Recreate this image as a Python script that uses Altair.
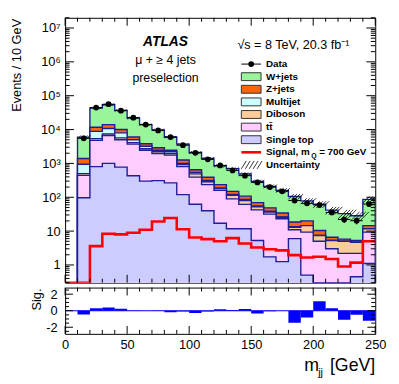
import altair as alt
import numpy as np
import pandas as pd

# ---------------- data ----------------
bin_lo = list(range(10, 250, 10))          # 24 bins, 10..250 GeV
data_obs = [5500, 44500, 56000, 36000, 22500, 14000, 9400, 6000, 3450, 2050, 1320, 870,
            620, 435, 275, 200, 150, 80, 66, 59, 35.5, 22, 20.3, 63]
w_jets = [4600, 31500, 40000, 27000, 16000, 10200, 6900, 3550, 2440, 1450, 1010, 613,
          550, 382, 226, 161, 126, 87, 58, 52, 35, 27, 23, 72]
z_jets = [450, 2900, 3300, 2000, 1000, 600, 450, 250, 260, 110, 75, 47,
          28, 22, 14, 10, 8, 5, 5.5, 3, 1.3, 0.8, 0.6, 2.8]
multijet = [450, 3400, 3300, 2300, 900, 500, 250, 250, 80, 50, 28, 10,
            8, 6, 3, 2, 0.5, 0.5, 0, 0, 0, 0, 0, 0]
diboson = [55, 600, 800, 700, 400, 250, 250, 200, 120, 100, 50, 20,
           24, 18, 10, 5, 2.5, 2, 5.2, 2.4, 2.3, 2.8, 2.5, 2.4]
ttbar = [345, 4000, 5600, 4225, 3270, 2150, 1640, 1485, 680, 330, 197, 143,
         78, 50, 37, 30, 22, 5, 8.8, 5, 3, 2.2, 1.75, 8.2]
single_top = [97, 800, 1000, 775, 430, 300, 310, 265, 120, 62, 40, 17,
              11.7, 11.7, 5.3, 1.74, 1.25, 6, 0.5, 0, 0, 0, 0.45, 1.1]
unc_rel = [0.12, 0.08, 0.08, 0.08, 0.08, 0.08, 0.08, 0.08, 0.09, 0.09, 0.1, 0.1,
           0.1, 0.11, 0.12, 0.13, 0.15, 0.18, 0.2, 0.22, 0.25, 0.3, 0.3, 0.22]
sig_lo = list(range(0, 250, 10))            # 25 bins, 0..250 GeV
signal = [0, 0, 3.6, 8.4, 8.0, 8.9, 10.9, 19.3, 24.5, 11.3, 6.5, 5.8, 5.0,
          6.2, 4.3, 3.3, 2.9, 2.7, 1.95, 1.67, 1.74, 1.5, 0.9, 1.17, 5.0]
significance = [-0.47, 0.31, 0.39, 0.24, 0.03, 0.0, -0.03, -0.18, -0.08, -0.27, -0.08, 0.18,
                0.1, 0.2, -0.33, -0.05, 0.0, -1.47, -0.82, 1.14, 0.3, -1.08, -0.5, -1.2]

legend_names = ["Data", "W+jets", "Z+jets", "Multijet", "Diboson", "tt̄", "Single top",
                "Signal, m", "Uncertainty"]
y_major = [1, 10, 100, 1e3, 1e4, 1e5, 1e6, 1e7]
x_major = [0, 50, 100, 150, 200, 250]
x_labels = [0, 50, 100, 150, 200, 250]
r_major = [-2, 0, 2]

# ---------------- style ----------------
FONT = "Liberation Sans"
W, H, HR = 315, 269, 47
YMIN, YMAX = 0.3, 2e7
FLOOR = 1e-3
NAVY = "#1e1e96"
colors = {"W+jets": "#99f599", "Z+jets": "#fa640a", "Multijet": "#ccffff",
          "Diboson": "#ffcc99", "tt": "#ffccff", "Single top": "#ccccff"}

xs = alt.Scale(domain=[0, 250], nice=False, zero=False)
ys = alt.Scale(type="log", domain=[YMIN, YMAX], nice=False, clamp=True)
rs = alt.Scale(domain=[-2.8, 2.8], nice=False, zero=False)

label_expr = ("datum.value < 5 ? '1' : datum.value < 50 ? '10' : '10' + "
              "['','','²','³','⁴','⁵','⁶','⁷','⁸'][round(log(datum.value)/LN10)]")
main_y_axis = alt.Axis(values=y_major, labelExpr=label_expr, ticks=False, domain=False,
                       grid=False, labelPadding=5, labelFontSize=13, labelFlush=False,
                       labelOverlap=False, title=None, orient="left")

one = pd.DataFrame({"a": [0]})
def text(t, x, y, size=12, weight="normal", style="normal", align="left",
         baseline="alphabetic", angle=0):
    return alt.Chart(one).mark_text(text=t, font=FONT, fontSize=size, fontWeight=weight,
                                    fontStyle=style, align=align, baseline=baseline,
                                    angle=angle, color="black").encode(
        x=alt.value(x), y=alt.value(y))

layers = []
# stacked histograms (cumulative), drawn top layer first
stack_order = [("Single top", single_top), ("tt", ttbar), ("Diboson", diboson),
               ("Multijet", multijet), ("Z+jets", z_jets), ("W+jets", w_jets)]
cum = np.cumsum(np.array([v for _, v in stack_order], dtype=float), axis=0)
first = True
for idx in range(len(stack_order) - 1, -1, -1):
    name = stack_order[idx][0]
    c = np.maximum(cum[idx], FLOOR)
    df_a = pd.DataFrame({"x": bin_lo + [250], "y": list(c) + [c[-1]]})
    yenc = alt.Y("y:Q", scale=ys, axis=main_y_axis if first else None)
    first = False
    layers.append(alt.Chart(df_a).mark_area(interpolate="step-after", color=colors[name],
                                            clip=True, opacity=1)
                  .encode(x=alt.X("x:Q", scale=xs, axis=None), y=yenc, y2=alt.value(H)))
    df_l = pd.DataFrame({"x": [10] + bin_lo + [250, 250],
                         "y": [FLOOR] + list(c) + [c[-1], FLOOR],
                         "i": list(range(len(bin_lo) + 3))})
    layers.append(alt.Chart(df_l).mark_line(interpolate="step-after", color=NAVY,
                                            strokeWidth=1.4, clip=True)
                  .encode(x=alt.X("x:Q", scale=xs, axis=None),
                          y=alt.Y("y:Q", scale=ys, axis=None), order=alt.Order("i:Q")))

# signal
sg = [max(v, FLOOR) for v in signal]
df_s = pd.DataFrame({"x": sig_lo + [250], "y": sg + [sg[-1]], "i": list(range(len(sg) + 1))})
layers.append(alt.Chart(df_s).mark_line(interpolate="step-after", color="#ff0000",
                                        strokeWidth=2.6, clip=True)
              .encode(x=alt.X("x:Q", scale=xs, axis=None), y=alt.Y("y:Q", scale=ys, axis=None),
                      order=alt.Order("i:Q")))

# uncertainty hatching around the total
total = cum[-1]
px_per_dec = H / np.log10(YMAX / YMIN)
rows = []
for lo, t, u in zip(bin_lo, total, unc_rel):
    lo_v, hi_v = t * (1 - u), t * (1 + u)
    dx = min(px_per_dec * np.log10(hi_v / lo_v) / (W / 250.0), 9.0)
    for k in range(4):
        x1 = lo + 2.5 * k
        rows.append({"x1": x1, "x2": x1 + dx, "y1": lo_v, "y2": hi_v})
df_h = pd.DataFrame(rows)
layers.append(alt.Chart(df_h).mark_rule(color="black", strokeWidth=0.8, clip=True)
              .encode(x=alt.X("x1:Q", scale=xs, axis=None), x2="x2:Q",
                      y=alt.Y("y1:Q", scale=ys, axis=None), y2="y2:Q"))

# data points
df_d = pd.DataFrame({"lo": bin_lo, "hi": [b + 10 for b in bin_lo], "c": [b + 5 for b in bin_lo],
                     "d": data_obs,
                     "dl": [d - np.sqrt(d) for d in data_obs],
                     "dh": [d + np.sqrt(d) for d in data_obs]})
layers.append(alt.Chart(df_d).mark_rule(color="black", strokeWidth=1, clip=True)
              .encode(x=alt.X("lo:Q", scale=xs, axis=None), x2="hi:Q",
                      y=alt.Y("d:Q", scale=ys, axis=None)))
layers.append(alt.Chart(df_d).mark_rule(color="black", strokeWidth=1, clip=True)
              .encode(x=alt.X("c:Q", scale=xs, axis=None),
                      y=alt.Y("dl:Q", scale=ys, axis=None), y2="dh:Q"))
layers.append(alt.Chart(df_d).mark_circle(color="black", size=34, opacity=1, clip=True)
              .encode(x=alt.X("c:Q", scale=xs, axis=None), y=alt.Y("d:Q", scale=ys, axis=None)))

# tick marks (inside, ROOT style)
def yticks(vals, scale, length, w):
    df = pd.DataFrame({"v": vals})
    out = []
    for a, b in ((0, length), (w - length, w)):
        out.append(alt.Chart(df).mark_rule(color="black", strokeWidth=1)
                   .encode(y=alt.Y("v:Q", scale=scale, axis=None),
                           x=alt.value(a), x2=alt.value(b)))
    return out

def xticks(vals, length, h):
    df = pd.DataFrame({"v": vals})
    out = []
    for a, b in ((h - length, h), (0, length)):
        out.append(alt.Chart(df).mark_rule(color="black", strokeWidth=1)
                   .encode(x=alt.X("v:Q", scale=xs, axis=None),
                           y=alt.value(a), y2=alt.value(b)))
    return out

y_minor = [m * 10.0 ** k for k in range(-1, 8) for m in range(2, 10)
           if YMIN <= m * 10.0 ** k <= YMAX]
x_minor = [v for v in range(0, 251, 10) if v % 50 != 0]
layers += yticks(y_major, ys, 9, W) + yticks(y_minor, ys, 4.5, W)
layers += xticks(x_major, 8, H) + xticks(x_minor, 4, H)

# texts
layers.append(text("Events / 10 GeV", -42, 1, 13, align="right", baseline="bottom", angle=270))
layers.append(text("ATLAS", 102, 29, 14, "bold", "italic", "center"))
layers.append(text("μ + ≥ 4 jets", 102, 47, 12.5, align="center"))
layers.append(text("preselection", 102, 65, 12.5, align="center"))
layers.append(text("√s = 8 TeV, 20.3 fb⁻¹", 175, 32, 12.8))

# legend
LX0, LX1, LT = 179, 199, 204
LY0, LDY = 47, 12.8
leg_fill = [None, colors["W+jets"], colors["Z+jets"], colors["Multijet"], colors["Diboson"],
            colors["tt"], colors["Single top"], None, None]
for i, name in enumerate(legend_names):
    yc = LY0 + LDY * i
    if i == 0:
        layers.append(alt.Chart(one).mark_rule(color="black", strokeWidth=1)
                      .encode(x=alt.value(LX0), x2=alt.value(LX1), y=alt.value(yc)))
        layers.append(alt.Chart(one).mark_circle(color="black", size=34, opacity=1)
                      .encode(x=alt.value((LX0 + LX1) / 2), y=alt.value(yc)))
    elif leg_fill[i] is not None:
        layers.append(alt.Chart(one).mark_rect(fill=leg_fill[i], stroke="#333333", strokeWidth=1)
                      .encode(x=alt.value(LX0), x2=alt.value(LX1),
                              y=alt.value(yc - 4), y2=alt.value(yc + 4)))
    elif i == 7:
        layers.append(alt.Chart(one).mark_rule(color="#ff0000", strokeWidth=2.6)
                      .encode(x=alt.value(LX0), x2=alt.value(LX1), y=alt.value(yc)))
    else:
        for k in range(5):
            layers.append(alt.Chart(one).mark_rule(color="black", strokeWidth=0.8)
                          .encode(x=alt.value(LX0 + 4 * k), x2=alt.value(LX0 + 4 * k + 5),
                                  y=alt.value(yc + 4), y2=alt.value(yc - 4)))
    layers.append(text(name, LT, yc, 10, "bold", baseline="middle"))
    if i == 7:
        layers.append(text("Q", LT + 46, yc + 4, 7, "bold", baseline="middle"))
        layers.append(text("= 700 GeV", LT + 54, yc, 10, "bold", baseline="middle"))

main = (alt.layer(*layers).properties(width=W, height=H)
        .resolve_axis(x="independent", y="independent"))

# ---------------- significance panel ----------------
df_r = pd.DataFrame({"lo": bin_lo, "hi": [b + 10 for b in bin_lo], "s": significance})
x_axis = alt.Axis(values=x_labels, format="d", ticks=False, domain=False, grid=False,
                  labelPadding=5, labelFontSize=13, labelFlush=False, labelOverlap=False,
                  title=None, orient="bottom")
r_axis = alt.Axis(values=r_major, labelExpr="'' + datum.value", ticks=False, domain=False,
                  grid=False, labelPadding=8, labelFontSize=13, labelFlush=False,
                  labelOverlap=False, title=None, orient="left")
rl = [alt.Chart(df_r).mark_rect(color="#0000ff", clip=True)
      .encode(x=alt.X("lo:Q", scale=xs, axis=x_axis), x2="hi:Q",
              y=alt.Y("s:Q", scale=rs, axis=r_axis), y2=alt.datum(0))]
rl.append(alt.Chart(pd.DataFrame({"v": [0]})).mark_rule(color="#0000ff", strokeWidth=1.2)
          .encode(y=alt.Y("v:Q", scale=rs, axis=None), x=alt.value(0), x2=alt.value(W)))
r_minor = [v / 2 for v in range(-5, 6) if v % 4 != 0]
rl += yticks(r_major, rs, 8, W) + yticks(r_minor, rs, 4, W)
rl += xticks(x_major, 8, HR) + xticks(x_minor, 4, HR)
rl.append(text("Sig.", -21, 1, 13, align="right", baseline="bottom", angle=270))
rl.append(text("m", 243, 85, 18))
rl.append(text("jj", 257, 90, 11))
rl.append(text("[GeV]", 315, 85, 18, align="right"))
ratio = (alt.layer(*rl).properties(width=W, height=HR)
         .resolve_axis(x="independent", y="independent"))

chart = (alt.vconcat(main, ratio, spacing=3)
         .properties(padding={"left": 2, "top": 6, "right": 4, "bottom": 4})
         .configure_view(stroke="black", strokeWidth=1)
         .configure_axis(labelFont=FONT, titleFont=FONT, labelColor="black",
                         titleColor="black", titleFontWeight="normal"))

chart.save("out.html", embed_options={"renderer": "svg", "actions": False})
